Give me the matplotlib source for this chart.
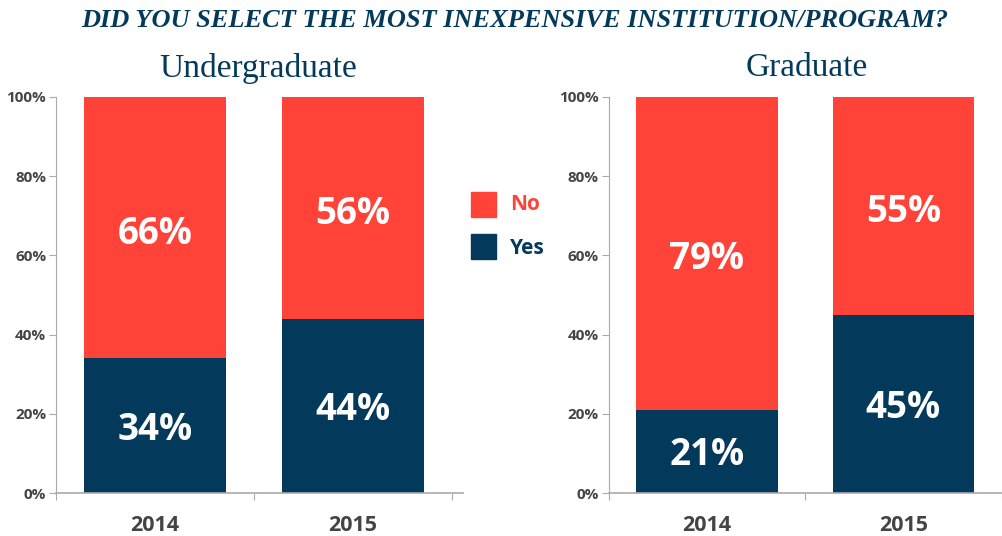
import numpy as np
import matplotlib.pyplot as plt

years = ['2014', '2015']
undergrad_yes = [34, 44]
undergrad_no = [66, 56]
grad_yes = [21, 45]
grad_no = [79, 55]

red = '#FF4338'
navy = '#033A5C'
grey = '#444444'

plt.rcParams['font.family'] = ['Open Sans', 'DejaVu Sans']

fig = plt.figure(figsize=(10.03, 5.36), dpi=100)

def draw_panel(ax, yes, no, title, title_x, right_lim):
    x = np.arange(len(years))
    ax.bar(x, yes, width=0.72, color=navy)
    ax.bar(x, no, width=0.72, bottom=yes, color=red)
    for i in range(len(years)):
        ax.text(x[i], yes[i] / 2 - 1, f'{yes[i]}%', ha='center', va='center',
                color='white', fontsize=26.5, fontweight='bold')
        ax.text(x[i], yes[i] + no[i] / 2 - 1.5, f'{no[i]}%', ha='center', va='center',
                color='white', fontsize=26.5, fontweight='bold')
    ax.set_xlim(-0.5, right_lim)
    ax.set_ylim(0, 100)
    ax.set_yticks([0, 20, 40, 60, 80, 100])
    ax.set_yticklabels(['0%', '20%', '40%', '60%', '80%', '100%'])
    ax.set_xticks([-0.5, 0.5, 1.5])
    ax.set_xticklabels([])
    ax.set_xticks(x, minor=True)
    ax.set_xticklabels(years, minor=True)
    ax.tick_params(axis='x', which='major', length=5, color='#aaaaaa')
    ax.tick_params(axis='x', which='minor', length=0, pad=16, labelsize=15.5,
                   labelcolor=grey)
    ax.tick_params(axis='y', length=5, color='#aaaaaa', labelsize=11,
                   labelcolor=grey, pad=2)
    for lab in ax.get_xticklabels(minor=True) + ax.get_yticklabels():
        lab.set_fontweight('bold')
    for s in ['top', 'right']:
        ax.spines[s].set_visible(False)
    for s in ['left', 'bottom']:
        ax.spines[s].set_color('#aaaaaa')
    ax.spines['bottom'].set_linewidth(1.2)
    fig.text(title_x, 0.873, title, ha='center', va='center', fontsize=24,
             color=navy, family='Liberation Serif')

ax1 = fig.add_axes([0.0558, 0.0802, 0.406, 0.739])
draw_panel(ax1, undergrad_yes, undergrad_no, 'Undergraduate', 0.257, 1.556)

ax2 = fig.add_axes([0.6067, 0.0802, 0.392, 0.739])
draw_panel(ax2, grad_yes, grad_no, 'Graduate', 0.804, 1.49)

fig.text(0.513, 0.962, 'DID YOU SELECT THE MOST INEXPENSIVE INSTITUTION/PROGRAM?',
         ha='center', va='center', fontsize=19, fontweight='bold', style='italic',
         color=navy, family='Liberation Serif')

# legend
fig.patches.append(plt.Rectangle((471 / 1003, 1 - 217 / 536), 25 / 1003, 25 / 536,
                                 transform=fig.transFigure, color=red))
fig.patches.append(plt.Rectangle((471 / 1003, 1 - 259 / 536), 25 / 1003, 25 / 536,
                                 transform=fig.transFigure, color=navy))
fig.text(510 / 1003, 1 - 205 / 536, 'No', color=red, fontsize=15,
         fontweight='bold', va='center')
fig.text(510 / 1003, 1 - 248 / 536, 'Yes', color=navy, fontsize=15,
         fontweight='bold', va='center')

fig.savefig('out.png', dpi=100)
